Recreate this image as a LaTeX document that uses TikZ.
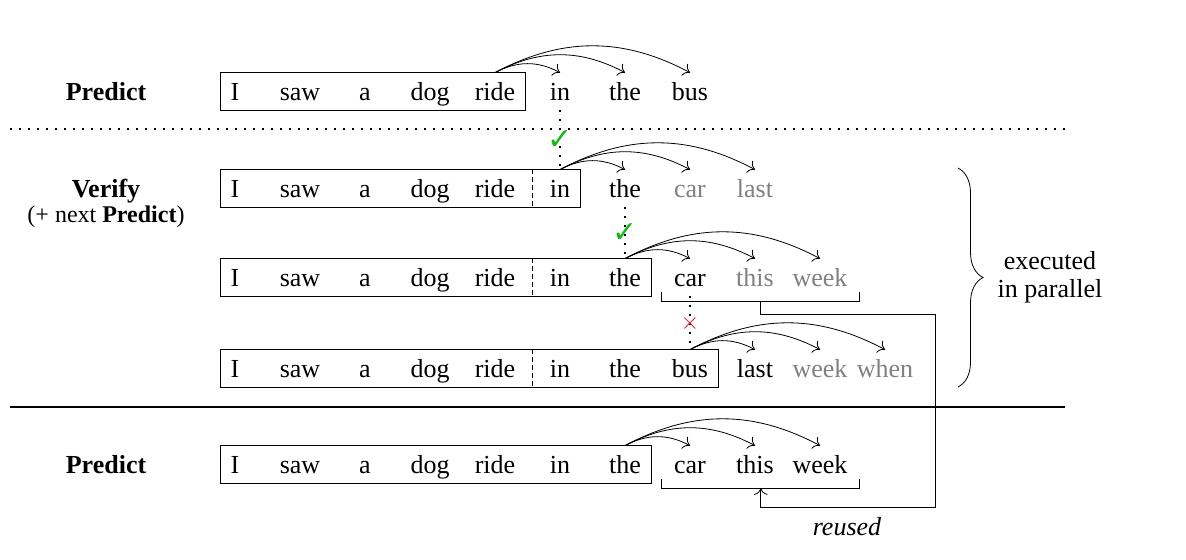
\documentclass[tikz,border=0pt]{standalone}
\usepackage{fontspec}
\setmainfont{Liberation Serif}
\newfontfamily\checkfont{DejaVu Sans}
\usepackage{xcolor}
\usepackage{tikz}
\usetikzlibrary{positioning, arrows.meta, fit, calc, decorations.pathreplacing}
\definecolor{okgreen}{RGB}{20,185,20}
\definecolor{badred}{RGB}{220,20,30}

\begin{document}
\begin{tikzpicture}[
			x=0.5pt, y=-0.5pt,
			word/.style={
				anchor=base,
				inner sep=0pt,
				text height=13.5pt,
				text depth=5pt
			},
			ghost/.style={word, text=gray},
			box/.style={
				draw,
				rectangle,
				inner xsep=5pt,
				inner ysep=0pt
			},
			split/.style={dash pattern=on 2.5pt off 1.5pt},
			jump/.style={-{To[scale=1.3]}, bend left=28},
			dotline/.style={line width=0.9pt, dash pattern=on 0.9pt off 3.6pt},
			tag/.style={anchor=base, font=\bfseries},
			tick/.style={font=\checkfont\fontsize{15}{15}\selectfont, inner sep=0pt}
			]
			\fontsize{13}{14}\selectfont
			\useasboundingbox (0,0) rectangle (1186,559);
			
			% Left labels
			\node[tag] (lp) at (106,100) {Predict};
			\node[tag] (lv) at (106,197) {Verify};
			\node[anchor=base, font=\fontsize{12}{14}\selectfont] (lv2) at (106,222) {(+ next \textbf{Predict})};
			\node[tag] (ln) at (106,473) {Predict};
			
			% Predict row
			\foreach \w [count=\i] in {I,saw,a,dog,ride,in,the,bus}
				\node[word] (p\i) at (170+65*\i,100) {\w};
			\node[box, fit=(p1)(p5)] (pbox) {};
			\foreach \j in {6,7,8}
				\draw[jump] (p5.north) to (p\j.north);
			
			% Separator
			\coordinate (dl) at (10,129);
			\coordinate (dr) at (1065,129);
			\draw[dotline] (dl) -- (dr);
			
			% Verify row 1
			\foreach \w [count=\i] in {I,saw,a,dog,ride,in,the}
				\node[word] (a\i) at (170+65*\i,197) {\w};
			\node[ghost] (a8) at (690,197) {car};
			\node[ghost] (a9) at (755,197) {last};
			\node[box, fit=(a1)(a6)] (abox) {};
			\foreach \j in {7,8,9}
				\draw[jump] (a6.north) to (a\j.north);
			
			% Verify row 2
			\foreach \w [count=\i] in {I,saw,a,dog,ride,in,the,car}
				\node[word] (b\i) at (170+65*\i,286) {\w};
			\node[ghost] (b9) at (755,286) {this};
			\node[ghost] (b10) at (820,286) {week};
			\node[box, fit=(b1)(b7)] (bbox) {};
			\foreach \j in {8,9,10}
				\draw[jump] (b7.north) to (b\j.north);
			
			% Verify row 3
			\foreach \w [count=\i] in {I,saw,a,dog,ride,in,the,bus,last}
				\node[word] (c\i) at (170+65*\i,377) {\w};
			\node[ghost] (c10) at (820,377) {week};
			\node[ghost] (c11) at (885,377) {when};
			\node[box, fit=(c1)(c8)] (cbox) {};
			\foreach \j in {9,10,11}
				\draw[jump] (c8.north) to (c\j.north);
			
			% Dashed split inside the verify boxes
			\foreach \row in {a,b,c} {
				\coordinate (\row cut) at ($(\row5.east)!0.5!(\row6.west)$);
				\draw[split] (\row cut |- \row box.north) -- (\row cut |- \row box.south);
			}
			
			% Accept / reject
			\draw[dotline] (p6.south) -- (a6.north) node[midway, tick, text=okgreen] (ok1) {✓};
			\draw[dotline] (a7.south) -- (b7.north) node[midway, tick, text=okgreen] (ok2) {✓};
			\draw[dotline] (b8.south) -- (c8.north) node[midway, text=badred] (no1) {$\times$};
			
			% Bottom line
			\coordinate (ll) at (10,407);
			\coordinate (lr) at (1065,407);
			\draw[line width=0.8pt] (ll) -- (lr);
			
			% Next predict row
			\foreach \w [count=\i] in {I,saw,a,dog,ride,in,the,car,this,week}
				\node[word] (n\i) at (170+65*\i,473) {\w};
			\node[box, fit=(n1)(n7)] (nbox) {};
			\foreach \j in {8,9,10}
				\draw[jump] (n7.north) to (n\j.north);
			
			% Brackets and reuse
			\draw ([xshift=-6pt,yshift=2pt]b8.south west) |- coordinate[pos=0.75] (bmid) ([xshift=6pt,yshift=-2.5pt]b10.south east) -- ++(0,4.5pt);
			\draw ([xshift=-6pt,yshift=2pt]n8.south west) |- coordinate[pos=0.75] (nmid) ([xshift=6pt,yshift=-2.5pt]n10.south east) -- ++(0,4.5pt);
			\coordinate (turn) at (935,507);
			\draw[-{To[scale=1.3]}] (bmid) -- ++(0,-6.5pt) -| (turn) -| (nmid);
			\node[anchor=base, font=\itshape] (reused) at (847,535) {reused};
			
			% Brace
			\coordinate (btop) at (958,168);
			\coordinate (bbot) at (958,387);
			\draw[decorate, decoration={brace, amplitude=12.5pt}] (btop) -- (bbot);
			\node[align=center] (par) at (1050,277) {executed\\in parallel};
			
		\end{tikzpicture}
\end{document}
